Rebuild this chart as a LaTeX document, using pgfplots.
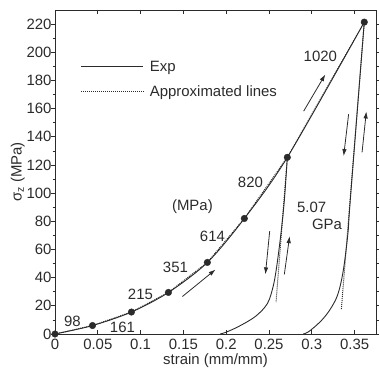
\documentclass[border=0pt]{standalone}
\usepackage{pgfplots}
\pgfplotsset{compat=1.18}
\usepackage{fontspec}
\setmainfont{Liberation Sans}
\usetikzlibrary{arrows.meta}
\definecolor{ink}{HTML}{2B2B2B}

\begin{document}
\begin{tikzpicture}[font=\fontsize{15}{17}\selectfont]
\begin{axis}[
  name=main,
  scale only axis, width=321bp, height=324bp,
  xmin=0, xmax=0.375, ymin=0, ymax=230,
  xtick={0,0.05,0.1,0.15,0.2,0.25,0.3,0.35},
  xticklabels={0,0.05,0.1,0.15,0.2,0.25,0.3,0.35},
  ytick={0,20,40,60,80,100,120,140,160,180,200,220},
  yticklabels={0,20,40,60,80,100,120,140,160,180,200,220},
  tick align=inside,
  y tick style={draw=none},
  major tick length=4bp,
  tick label style={text=ink},
  axis line style={ink, line width=0.7pt},
  x tick style={ink, line width=0.7pt},
  xlabel={strain (mm/mm)},
  ylabel={σ\textsubscript{z} (MPa)},
  xlabel style={text=ink, yshift=3bp},
  ylabel style={text=ink, yshift=-5bp},
  xticklabel style={yshift=-2bp},
  legend cell align=left,
  legend style={at={(rel axis cs:0.08,0.85)}, anchor=north west, draw=none, fill=none,
    row sep=9bp, column sep=4bp, text=ink, inner sep=0pt},
  legend image code/.code={\draw[#1] (0bp,0bp) -- (62bp,0bp);},
]
\coordinate (ll) at (rel axis cs:0,0);
\coordinate (ur) at (rel axis cs:1,1);

% Exp loading curve
\addplot[ink, line width=0.9pt, smooth, tension=0.5] coordinates {
 (0,0) (0.0438,6) (0.0893,15.6) (0.1325,29.5) (0.178,50.8) (0.2212,82) (0.2714,125.4) (0.3613,221.4)
};
\addlegendentry{Exp}
% approximated lines
\addplot[ink, line width=1.0pt, densely dotted] coordinates {
 (0,0) (0.0438,6) (0.0893,15.6) (0.1325,29.5) (0.178,50.8) (0.2212,82) (0.2714,125.4) (0.3613,221.4)
};
\addlegendentry{Approximated lines}

% unloading curves (Exp)
\addplot[ink, line width=0.9pt, smooth, tension=0.55, forget plot] coordinates {
 (0.2714,125.4) (0.268,95.5) (0.2641,72.1) (0.2590,47.9) (0.2548,33.7) (0.2480,21.5) (0.2340,12.4) (0.2150,5.5) (0.2000,1.3) (0.193,0)
};
\addplot[ink, line width=0.9pt, smooth, tension=0.55, forget plot] coordinates {
 (0.3613,221.4) (0.3450,95.5) (0.3423,72.1) (0.3375,47.9) (0.3330,33.7) (0.3280,24.5) (0.3190,15.3) (0.3090,8.2) (0.2960,1.5) (0.290,0)
};
% approximated unloading lines
\addplot[ink, line width=1.0pt, densely dotted, forget plot] coordinates {(0.2714,125.4) (0.2582,22.4)};
\addplot[ink, line width=1.0pt, densely dotted, forget plot] coordinates {(0.3613,221.4) (0.3345,17.4)};

% markers
\addplot[only marks, mark=*, mark size=3.3bp, mark options={fill=ink, draw=ink}, forget plot] coordinates {
 (0,0) (0.0438,6) (0.0893,15.6) (0.1325,29.5) (0.178,50.8) (0.2212,82) (0.2714,125.4) (0.3613,221.4)
};

% slope labels
\node[text=ink] at (axis cs:0.0204,8.9) {98};
\node[text=ink] at (axis cs:0.0788,4.6) {161};
\node[text=ink] at (axis cs:0.0998,28.1) {215};
\node[text=ink] at (axis cs:0.1407,47.2) {351};
\node[text=ink] at (axis cs:0.1839,69.2) {614};
\node[text=ink] at (axis cs:0.2283,107.6) {820};
\node[text=ink] at (axis cs:0.1605,90.6) {(MPa)};
\node[text=ink] at (axis cs:0.310,197.1) {1020};
\node[text=ink] at (axis cs:0.2998,89.6) {5.07};
\node[text=ink] at (axis cs:0.3178,77.8) {GPa};

% direction arrows
\begin{scope}[ink, line width=0.8pt, -{Latex[length=7bp,width=4.5bp]}]
\draw (axis cs:0.1488,26.6) -- (axis cs:0.1876,45.8);
\draw (axis cs:0.2905,158.2) -- (axis cs:0.3158,184.3);
\draw (axis cs:0.2508,73.0) -- (axis cs:0.2458,42.3);
\draw (axis cs:0.2679,42.3) -- (axis cs:0.2741,69.5);
\draw (axis cs:0.3430,156.0) -- (axis cs:0.3372,126.3);
\draw (axis cs:0.3587,128.9) -- (axis cs:0.3637,158.0);
\end{scope}
\end{axis}

% overlay axis for outward y ticks
\begin{axis}[
  scale only axis, width=321bp, height=324bp,
  xmin=0, xmax=0.375, ymin=0, ymax=230,
  xtick=\empty,
  ytick={0,20,40,60,80,100,120,140,160,180,200,220},
  yticklabels={},
  minor y tick num=1,
  tick align=outside,
  major tick length=4bp, minor tick length=2.5bp,
  y tick style={ink, line width=0.7pt},
  axis line style={draw=none},
]
\end{axis}

\pgfresetboundingbox
\path ([shift={(-55bp,-37bp)}]ll) rectangle ([shift={(3bp,10bp)}]ur);
\end{tikzpicture}
\end{document}
